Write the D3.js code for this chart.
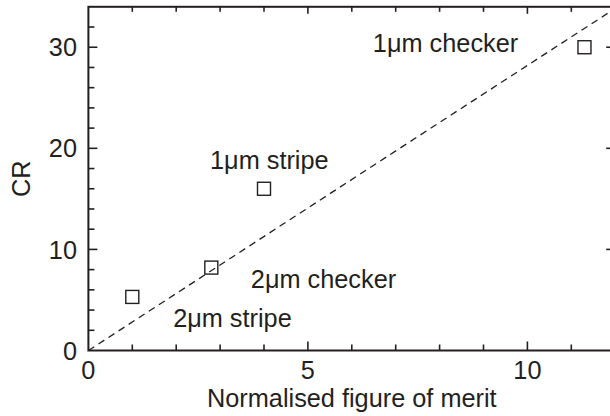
<!DOCTYPE html>
<html lang="en">
<head>
<meta charset="UTF-8">
<title>CR vs figure of merit</title>
<script src="https://d3js.org/d3.v7.min.js"></script>
<style>
  body { margin: 0; background: #fff; }
  svg { display: block; }
  text { font-family: "Liberation Sans", Arial, sans-serif; fill: #231f20; }
  .frame line { stroke: #231f20; }
</style>
</head>
<body>
<div id="chart"></div>
<script>
// data
const samples = ["2\u03bcm stripe", "2\u03bcm checker", "1\u03bcm stripe", "1\u03bcm checker"];
const fom = [1.0, 2.8, 4.0, 11.3];
const cr = [5.3, 8.2, 16.0, 30.0];
// where each sample name sits (in data units)
const labelX = [1.93, 3.70, 2.77, 6.48];
const labelY = [2.37, 6.23, 18.0, 29.5];
const fitSlope = 2.82;
const xTicks = [0, 5, 10];
const yTicks = [0, 10, 20, 30];

const W = 610, H = 416;
const mLeft = 88.4, mRight = 615.2, mTop = 6.8, mBottom = 350.5;
const fs = 25.3;

const svg = d3.select("#chart").append("svg")
  .attr("width", W).attr("height", H);

const x = d3.scaleLinear().domain([0, 12]).range([mLeft, mRight]);
const y = d3.scaleLinear().domain([0, 34]).range([mBottom, mTop]);

const ink = "#231f20";

// dashed fit line
svg.append("line")
  .attr("x1", x(0)).attr("y1", y(0))
  .attr("x2", x(12)).attr("y2", y(12 * fitSlope))
  .attr("stroke", ink).attr("stroke-width", 1.3)
  .attr("stroke-dasharray", "7,5");

// ticks - inward on all four sides
const g = svg.append("g").attr("class", "frame");
const xMinor = d3.range(1, 12);
const yMinor = d3.range(2, 34, 2);

xMinor.forEach(v => {
  const major = v % 5 === 0;
  g.append("line").attr("x1", x(v)).attr("x2", x(v))
    .attr("y1", mBottom).attr("y2", mBottom - (major ? 9 : 6)).attr("stroke-width", 1.6);
  g.append("line").attr("x1", x(v)).attr("x2", x(v))
    .attr("y1", mTop).attr("y2", mTop + (major ? 7 : 5)).attr("stroke-width", 1.6);
});
yMinor.forEach(v => {
  const major = v % 10 === 0;
  g.append("line").attr("y1", y(v)).attr("y2", y(v))
    .attr("x1", mLeft).attr("x2", mLeft + (major ? 9 : 6)).attr("stroke-width", 1.6);
  g.append("line").attr("y1", y(v)).attr("y2", y(v))
    .attr("x1", mRight).attr("x2", mRight - (major ? 9 : 5)).attr("stroke-width", 1.6);
});

// frame
g.append("rect")
  .attr("x", mLeft).attr("y", mTop)
  .attr("width", mRight - mLeft).attr("height", mBottom - mTop)
  .attr("fill", "none").attr("stroke", ink).attr("stroke-width", 2);

// tick labels
svg.selectAll(".xt").data(xTicks).enter().append("text")
  .attr("x", d => x(d)).attr("y", 379)
  .attr("text-anchor", "middle").attr("font-size", fs)
  .text(d => d);
svg.selectAll(".yt").data(yTicks).enter().append("text")
  .attr("x", 77).attr("y", d => y(d)).attr("dy", "0.36em")
  .attr("text-anchor", "end").attr("font-size", fs)
  .text(d => d);

// axis titles
svg.append("text")
  .attr("x", (mLeft + mRight) / 2).attr("y", 407)
  .attr("text-anchor", "middle").attr("font-size", fs)
  .text("Normalised figure of merit");
svg.append("text")
  .attr("transform", `translate(30,${(mTop + mBottom) / 2}) rotate(-90)`)
  .attr("text-anchor", "middle").attr("font-size", fs)
  .text("CR");

// markers
svg.selectAll(".pt").data(fom).enter().append("rect")
  .attr("x", (d, i) => x(d) - 6.5)
  .attr("y", (d, i) => y(cr[i]) - 6.5)
  .attr("width", 13).attr("height", 13)
  .attr("fill", "none").attr("stroke", ink).attr("stroke-width", 1.4);

// sample names
svg.selectAll(".lab").data(samples).enter().append("text")
  .attr("x", (d, i) => x(labelX[i]))
  .attr("y", (d, i) => y(labelY[i]))
  .attr("font-size", fs)
  .text(d => d);
</script>
</body>
</html>
